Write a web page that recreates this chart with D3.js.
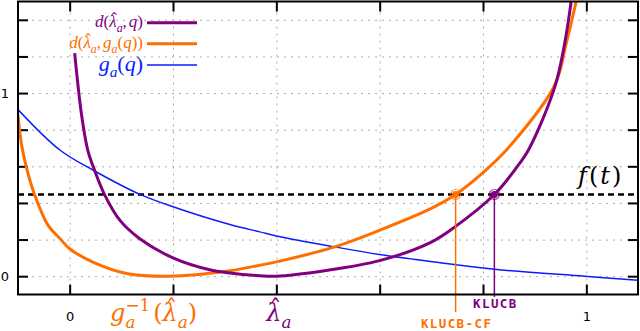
<!DOCTYPE html>
<html>
<head>
<meta charset="utf-8">
<script src="https://cdn.jsdelivr.net/npm/d3@7"></script>
<style>
  body { margin: 0; background: #fff; }
  svg { display: block; }
  .grid line { stroke: #aaa; stroke-width: 1; stroke-dasharray: 2,5; }
  .grid path { display: none; }
  .tk path { display: none; }
  .tk line { stroke: #000; stroke-width: 2; }
  .tk text { font-family: "DejaVu Sans", sans-serif; font-size: 13px; fill: #000; }
</style>
</head>
<body>
<div id="chart"></div>
<script>
// Données
const xTicks = [0, 0.2, 0.4, 0.6, 0.8, 1.0];
const yTicks = [0, 0.2, 0.4, 0.6, 0.8, 1.0, 1.2, 1.4];
const labelledTicks = [0, 1];

// d(lambda_hat, q)
const klQ = [0.0097, 0.0226, 0.035, 0.048, 0.068, 0.097, 0.135, 0.2, 0.271, 0.31, 0.368, 0.4, 0.493, 0.6, 0.697, 0.745, 0.822, 0.864, 0.889, 0.939, 0.958, 0.971];
const klD = [1.218, 0.89, 0.689, 0.58, 0.443, 0.306, 0.206, 0.1, 0.035, 0.018, 0.003, 0, 0.03, 0.085, 0.182, 0.268, 0.446, 0.59, 0.695, 1.034, 1.27, 1.508];

// d(lambda_hat, g_a(q))
const cfQ = [-0.1, -0.093, -0.084, -0.068, -0.042, -0.019, 0, 0.045, 0.11, 0.193, 0.31, 0.368, 0.4, 0.513, 0.6, 0.70, 0.747, 0.8, 0.855, 0.939, 0.961, 0.981];
const cfD = [0.88, 0.716, 0.597, 0.446, 0.279, 0.206, 0.15, 0.077, 0.015, 0, 0.03, 0.06, 0.078, 0.16, 0.251, 0.37, 0.446, 0.565, 0.72, 1.044, 1.27, 1.508];

// g_a(q)
const gQ = [-0.1, -0.019, 0.045, 0.135, 0.2, 0.31, 0.368, 0.4, 0.513, 0.6, 0.706, 0.822, 0.997, 1.1];
const gV = [0.91, 0.689, 0.58, 0.448, 0.379, 0.282, 0.242, 0.22, 0.16, 0.118, 0.078, 0.038, 0, -0.022];

const threshold = 0.446;      // f(t)
const lambdaHat = 0.4;
const gInvLambda = 0.2;
const ucbKL = 0.822;          // KLUCB
const ucbCF = 0.747;          // KLUCB-CF

const purple = "#800080";
const orange = "#ff6f00";
const blue = "#0a1cff";

const W = 640, H = 331;
const svg = d3.select("#chart").append("svg").attr("width", W).attr("height", H);

const x = d3.scaleLinear().domain([-0.1, 1.1]).range([18, 638]);
const y = d3.scaleLinear().domain([-0.1, 1.5]).range([294.5, 1.5]);
const [x0, x1] = x.range();
const [y0, y1] = y.range();

// Grille pointillée
svg.append("g").attr("class", "grid")
  .attr("transform", `translate(0,${y0})`)
  .call(d3.axisBottom(x).tickValues(xTicks).tickSize(-(y0 - y1)).tickFormat(""));
svg.append("g").attr("class", "grid")
  .attr("transform", `translate(${x0},0)`)
  .call(d3.axisLeft(y).tickValues(yTicks).tickSize(-(x1 - x0)).tickFormat(""));

// Graduations vers l'intérieur sur les quatre côtés
const fmt = d => labelledTicks.includes(d) ? d3.format("d")(d) : "";
svg.append("g").attr("class", "tk")
  .attr("transform", `translate(0,${y0})`)
  .call(d3.axisBottom(x).tickValues(xTicks).tickSize(-10).tickPadding(17).tickFormat(fmt));
svg.append("g").attr("class", "tk")
  .attr("transform", `translate(0,${y1})`)
  .call(d3.axisTop(x).tickValues(xTicks).tickSize(-10).tickFormat(""));
svg.append("g").attr("class", "tk")
  .attr("transform", `translate(${x0},0)`)
  .call(d3.axisLeft(y).tickValues(yTicks).tickSize(-10).tickPadding(9).tickFormat(fmt));
svg.append("g").attr("class", "tk")
  .attr("transform", `translate(${x1},0)`)
  .call(d3.axisRight(y).tickValues(yTicks).tickSize(-10).tickFormat(""));

// Zone de découpe
svg.append("clipPath").attr("id", "clip")
  .append("rect").attr("x", x0).attr("y", y1).attr("width", x1 - x0).attr("height", y0 - y1);

const plot = svg.append("g").attr("clip-path", "url(#clip)");

// Seuil f(t)
plot.append("line")
  .attr("x1", x0).attr("x2", x1)
  .attr("y1", y(threshold)).attr("y2", y(threshold))
  .attr("stroke", "#000").attr("stroke-width", 2.5).attr("stroke-dasharray", "6,4");

const line = d3.line().x(d => x(d[0])).y(d => y(d[1])).curve(d3.curveCatmullRom.alpha(0.5));

plot.append("path").datum(d3.zip(gQ, gV))
  .attr("d", line).attr("fill", "none").attr("stroke", blue).attr("stroke-width", 1.5);
plot.append("path").datum(d3.zip(cfQ, cfD))
  .attr("d", line).attr("fill", "none").attr("stroke", orange).attr("stroke-width", 3);
plot.append("path").datum(d3.zip(klQ, klD))
  .attr("d", line).attr("fill", "none").attr("stroke", purple).attr("stroke-width", 3);

// Lignes verticales et marqueurs
const ucbs = [
  { q: ucbCF, color: orange, name: "KLUCB-CF", bottom: 312, labelY: 328 },
  { q: ucbKL, color: purple, name: "KLUCB", bottom: 297, labelY: 308 }
];
ucbs.forEach(u => {
  svg.append("line")
    .attr("x1", x(u.q)).attr("x2", x(u.q))
    .attr("y1", y(threshold)).attr("y2", u.bottom)
    .attr("stroke", u.color).attr("stroke-width", 1.5);
  svg.append("circle").attr("cx", x(u.q)).attr("cy", y(threshold)).attr("r", 5)
    .attr("fill", "none").attr("stroke", u.color).attr("stroke-width", 1.2).attr("opacity", 0.7);
  svg.append("circle").attr("cx", x(u.q)).attr("cy", y(threshold)).attr("r", 3.5)
    .attr("fill", u.color);
  svg.append("text")
    .attr("x", x(u.q) + 1).attr("y", u.labelY)
    .attr("text-anchor", "middle")
    .style("font-family", "'DejaVu Sans Mono', monospace")
    .style("font-weight", "bold")
    .style("font-size", "12.5px")
    .style("letter-spacing", "1.4px")
    .attr("fill", u.color)
    .text(u.name);
});

// Texte mathématique : [texte, style, dx] ; style i, n, sub, sup, hat (accent sur le caractère précédent)
function mathText(g, parts, size, family) {
  const t = g.append("text").style("font-family", family).style("font-size", size + "px");
  let shift = 0, back = 0, prev = null;
  parts.forEach(([s, st, dx]) => {
    const sp = t.append("tspan").text(s);
    let target = 0;
    if (st === "sub") { target = 0.28 * size; sp.style("font-size", (size * 0.7) + "px").style("font-style", "italic"); }
    else if (st === "sup") { target = -0.42 * size; sp.style("font-size", (size * 0.7) + "px"); }
    else if (st === "hat") { target = -0.16 * size; }
    else if (st === "i") sp.style("font-style", "italic");
    if (target !== shift) { sp.attr("dy", target - shift); shift = target; }
    let off = (dx || 0) + back;
    back = 0;
    if (st === "hat" && prev) {
      const wl = prev.node().getComputedTextLength();
      const wh = sp.node().getComputedTextLength();
      off += -(wl + wh) / 2 + 0.06 * size;
      back = (wl - wh) / 2 - 0.06 * size;
    }
    if (off) sp.attr("dx", off);
    prev = sp;
  });
  return t;
}

const LAM = [["\u03bb", "i"], ["\u02c6", "hat"]];
const serif = "'Liberation Serif', serif";
const dserif = "'DejaVu Serif', serif";

// Légende
const legend = [
  { parts: [["d", "i"], ["(", "n"], ...LAM, ["a", "sub"], [",", "n"], ["q", "i", 2], [")", "n"]], color: purple, w: 3, size: 17 },
  { parts: [["d", "i"], ["(", "n"], ...LAM, ["a", "sub"], [",", "n"], ["g", "i", 2], ["a", "sub"], ["(", "n"], ["q", "i"], ["))", "n"]], color: orange, w: 3, size: 17 },
  { parts: [["g", "i"], ["a", "sub"], ["(", "n"], ["q", "i"], [")", "n"]], color: blue, w: 1.5, size: 22 }
];
const legY = [22.7, 43.7, 65];
legend.forEach((l, i) => {
  const g = svg.append("g").attr("transform", `translate(143,${legY[i] + l.size * 0.25})`);
  mathText(g, l.parts, l.size, serif).attr("text-anchor", "end").attr("fill", l.color);
  svg.append("line").attr("x1", 147).attr("x2", 197)
    .attr("y1", legY[i]).attr("y2", legY[i])
    .attr("stroke", l.color).attr("stroke-width", l.w);
});

// Annotations sur l'axe des abscisses
const gInv = svg.append("g").attr("transform", `translate(${x(gInvLambda) - 63},321)`);
mathText(gInv, [["g", "i"], ["a", "sub"], ["\u22121", "sup", -10], ["(", "n", 3], ...LAM, ["a", "sub"], [")", "n"]], 24, dserif)
  .attr("fill", orange);

const lh = svg.append("g").attr("transform", `translate(${x(lambdaHat) - 10},321)`);
mathText(lh, [...LAM, ["a", "sub"]], 24, dserif).attr("fill", purple);

const ft = svg.append("g").attr("transform", `translate(578,184)`);
mathText(ft, [["f", "i"], ["(", "n", 2], ["t", "i", 2], [")", "n", 2]], 24, dserif).attr("fill", "#000");

// Cadre
svg.append("rect").attr("x", x0).attr("y", y1).attr("width", x1 - x0).attr("height", y0 - y1)
  .attr("fill", "none").attr("stroke", "#000").attr("stroke-width", 2);
</script>
</body>
</html>
